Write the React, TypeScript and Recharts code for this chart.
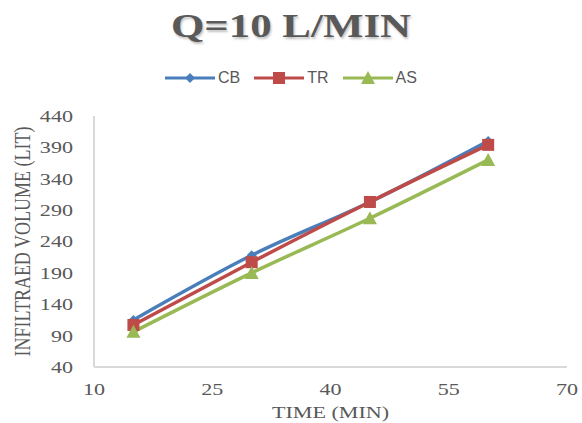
import { LineChart, Line, XAxis, YAxis, Label } from "recharts";

const times = [15, 30, 45, 60];
const cbValues = [115, 218, 303, 400];
const trValues = [107, 207, 303, 394];
const asValues = [96, 190, 277, 370];
const xTicks = [10, 25, 40, 55, 70];
const yTicks = [40, 90, 140, 190, 240, 290, 340, 390, 440];

const data = times.map((t, i) => ({
  time: t,
  CB: cbValues[i],
  TR: trValues[i],
  AS: asValues[i],
}));

const serif = '"Liberation Serif", "Times New Roman", serif';
const sans = '"Liberation Sans", Arial, sans-serif';
const grey = "#595959";
const stretch = 1.3; // the reference text is drawn wider than normal

const Diamond = (props: any) => {
  const { cx, cy, fill } = props;
  if (cx == null || cy == null) return null;
  return <path d={`M${cx},${cy - 5}L${cx + 5},${cy}L${cx},${cy + 5}L${cx - 5},${cy}Z`} fill={fill} />;
};
const Square = (props: any) => {
  const { cx, cy, fill } = props;
  if (cx == null || cy == null) return null;
  return <rect x={cx - 6} y={cy - 6} width={12} height={12} fill={fill} />;
};
const Triangle = (props: any) => {
  const { cx, cy, fill } = props;
  if (cx == null || cy == null) return null;
  return <path d={`M${cx},${cy - 7}L${cx + 7},${cy + 6}L${cx - 7},${cy + 6}Z`} fill={fill} />;
};

const series = [
  { key: "CB", color: "#4a7ebb", Shape: Diamond },
  { key: "TR", color: "#be4b48", Shape: Square },
  { key: "AS", color: "#98b954", Shape: Triangle },
];

function XTick(props: any) {
  const { x, y, payload } = props;
  return (
    <text
      transform={`translate(${x},${y}) scale(${stretch},1)`}
      textAnchor="middle"
      dy="0.71em"
      fill={grey}
      fontFamily={serif}
      fontSize={17}
    >
      {payload.value}
    </text>
  );
}

function YTick(props: any) {
  const { x, y, payload } = props;
  return (
    <text
      transform={`translate(${x},${y}) scale(${stretch},1)`}
      textAnchor="end"
      dy="0.35em"
      fill={grey}
      fontFamily={serif}
      fontSize={17}
    >
      {payload.value}
    </text>
  );
}

function XTitle(props: any) {
  const { viewBox } = props;
  const cx = viewBox.x + viewBox.width / 2;
  return (
    <text
      transform={`translate(${cx},418) scale(${stretch},1)`}
      textAnchor="middle"
      fill={grey}
      fontFamily={serif}
      fontSize={17}
    >
      TIME (MIN)
    </text>
  );
}

function YTitle(props: any) {
  const { viewBox } = props;
  const cy = viewBox.y + viewBox.height / 2;
  return (
    <text
      transform={`translate(30,${cy}) scale(${stretch},1) rotate(-90)`}
      textAnchor="middle"
      fill={grey}
      fontFamily={serif}
      fontSize={18}
    >
      INFILTRAED VOLUME (LIT)
    </text>
  );
}

function LegendBox() {
  return (
    <div
      style={{
        position: "absolute",
        top: 69,
        left: 0,
        width: 582,
        display: "flex",
        justifyContent: "center",
        gap: 14,
        fontFamily: sans,
        fontSize: 16,
        color: grey,
      }}
    >
      {series.map((s) => (
        <div key={s.key} style={{ display: "flex", alignItems: "center", gap: 3 }}>
          <svg width={50} height={14}>
            <line x1={0} y1={7} x2={50} y2={7} stroke={s.color} strokeWidth={3} />
            <s.Shape cx={25} cy={7} fill={s.color} />
          </svg>
          <span>{s.key}</span>
        </div>
      ))}
    </div>
  );
}

export default function App() {
  return (
    <div style={{ position: "absolute", left: 0, top: 0, width: 582, height: 423, background: "#fff", overflow: "hidden" }}>
      <div
        style={{
          position: "absolute",
          top: 8,
          left: 0,
          width: 582,
          textAlign: "center",
          fontFamily: serif,
          fontWeight: "bold",
          fontSize: 33,
          color: grey,
          transform: `scaleX(${stretch})`,
          textShadow: "1px 2px 2px rgba(0,0,0,0.25)",
        }}
      >
        Q=10 L/MIN
      </div>
      <LegendBox />
      <LineChart width={582} height={423} data={data} margin={{ top: 116, right: 15, bottom: 0, left: 0 }}>
        <XAxis
          dataKey="time"
          type="number"
          domain={[10, 70]}
          ticks={xTicks}
          interval={0}
          tickLine={false}
          tickMargin={10}
          stroke="#d9d9d9"
          strokeWidth={2}
          tick={<XTick />}
          height={56}
        >
          <Label content={<XTitle />} />
        </XAxis>
        <YAxis
          type="number"
          domain={[40, 440]}
          ticks={yTicks}
          interval={0}
          tickLine={false}
          tickMargin={15}
          stroke="#d9d9d9"
          strokeWidth={2}
          width={94}
          tick={<YTick />}
        >
          <Label content={<YTitle />} />
        </YAxis>
        {series.map((s) => (
          <Line
            key={s.key}
            type="monotone"
            dataKey={s.key}
            stroke={s.color}
            strokeWidth={3.5}
            dot={<s.Shape fill={s.color} />}
            activeDot={false}
            isAnimationActive={false}
          />
        ))}
      </LineChart>
    </div>
  );
}
